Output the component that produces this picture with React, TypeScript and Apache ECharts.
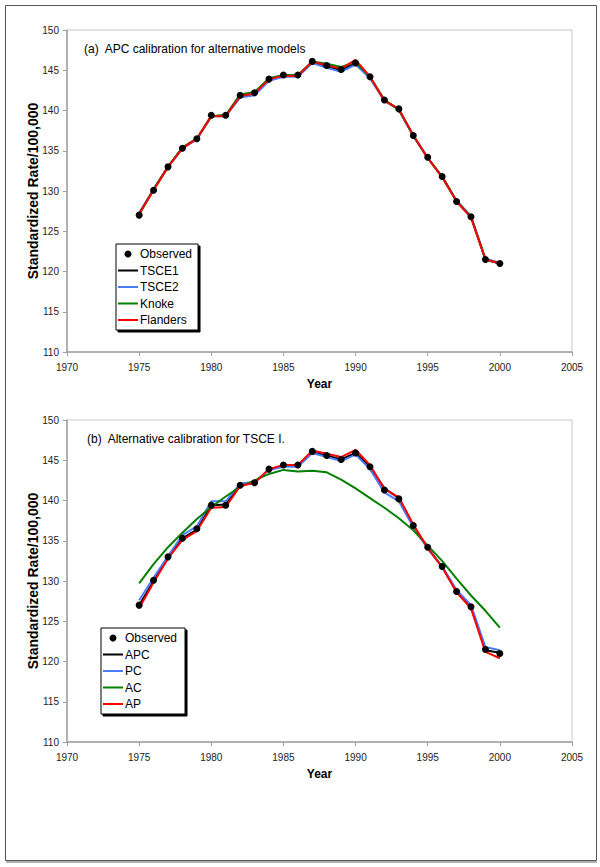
import React, { useEffect, useRef } from "react";
import * as echarts from "echarts";

const years = [1975, 1976, 1977, 1978, 1979, 1980, 1981, 1982, 1983, 1984, 1985, 1986, 1987, 1988, 1989, 1990, 1991, 1992, 1993, 1994, 1995, 1996, 1997, 1998, 1999, 2000];
const observed = [127.0, 130.1, 133.0, 135.3, 136.5, 139.4, 139.4, 141.9, 142.2, 143.9, 144.4, 144.4, 146.1, 145.6, 145.1, 145.9, 144.2, 141.3, 140.2, 136.9, 134.2, 131.8, 128.7, 126.8, 121.5, 121.0];

// Panel (a)
const tsce1 = [127.1, 130.2, 133.0, 135.4, 136.5, 139.3, 139.4, 141.8, 142.1, 143.9, 144.3, 144.3, 146.0, 145.5, 145.0, 145.9, 144.1, 141.3, 140.1, 136.9, 134.1, 131.8, 128.8, 126.8, 121.5, 121.0];
const tsce2 = [127.3, 130.2, 133.0, 135.3, 136.4, 139.3, 139.3, 141.6, 141.9, 143.7, 144.2, 144.2, 145.9, 145.3, 144.8, 145.7, 144.0, 141.2, 140.1, 136.8, 134.1, 131.7, 128.8, 126.9, 121.6, 121.1];
const knoke = [127.1, 130.2, 133.0, 135.4, 136.5, 139.3, 139.4, 142.0, 142.3, 144.0, 144.4, 144.4, 146.1, 145.8, 145.4, 146.0, 144.2, 141.3, 140.1, 136.9, 134.1, 131.8, 128.7, 126.8, 121.5, 121.0];
const flanders = [127.2, 130.1, 133.0, 135.3, 136.5, 139.3, 139.3, 141.8, 142.1, 143.9, 144.3, 144.3, 146.1, 145.6, 145.2, 146.3, 144.2, 141.2, 140.2, 136.9, 134.1, 131.7, 128.7, 126.7, 121.5, 121.0];

// Panel (b)
const apc = [127.0, 130.0, 133.0, 135.3, 136.4, 139.4, 139.5, 141.9, 142.2, 143.9, 144.3, 144.3, 146.0, 145.6, 145.1, 145.9, 144.2, 141.5, 140.3, 136.9, 134.1, 131.8, 128.7, 126.8, 121.4, 121.1];
const pc = [127.6, 130.4, 133.1, 135.7, 136.8, 139.9, 139.9, 142.1, 142.3, 143.8, 144.2, 144.2, 145.9, 145.4, 144.9, 145.7, 143.9, 141.0, 139.9, 136.7, 134.0, 131.8, 128.9, 127.0, 121.8, 121.4];
const ac = [129.7, 132.1, 134.2, 136.0, 137.7, 139.2, 140.5, 141.7, 142.5, 143.3, 143.8, 143.6, 143.7, 143.5, 142.6, 141.5, 140.3, 139.1, 137.8, 136.3, 134.4, 132.5, 130.3, 128.2, 126.3, 124.2];
const ap = [126.6, 129.8, 132.8, 135.1, 136.2, 139.1, 139.2, 141.8, 142.2, 143.9, 144.4, 144.4, 146.2, 145.8, 145.4, 146.3, 144.4, 141.4, 140.4, 137.0, 134.1, 131.7, 128.6, 126.6, 121.2, 120.4];

const titleA = "(a)  APC calibration for alternative models";
const titleB = "(b)  Alternative calibration for TSCE I.";
const legendA = ["Observed", "TSCE1", "TSCE2", "Knoke", "Flanders"];
const legendB = ["Observed", "APC", "PC", "AC", "AP"];
const colors = ["#000000", "#4a7dff", "#008000", "#ff0000"];

const FONT = "'Liberation Sans', Arial, sans-serif";
const LINE_ICON = "path://M0,0 L20,0 L20,2 L0,2 Z";

const pairs = (vals: number[]) => years.map((y, i) => [y, vals[i]]);

export default function App() {
  const ref = useRef<HTMLDivElement>(null);
  useEffect(() => {
    if (!ref.current) return;
    const chart = echarts.init(ref.current, undefined, { renderer: "svg" });

    const grids = [
      { left: 67, top: 30, width: 505, height: 322 },
      { left: 67, top: 420, width: 505, height: 322 },
    ];
    const xAxes = grids.map((_, i) => ({
      type: "value",
      gridIndex: i,
      min: 1970,
      max: 2005,
      interval: 5,
      name: "Year",
      nameLocation: "middle",
      nameGap: 26,
      nameTextStyle: { fontFamily: FONT, fontSize: 12, fontWeight: "bold", color: "#000" },
      axisLine: { show: true, lineStyle: { color: "#a0a0a0", width: 1.5 } },
      axisTick: { show: true, length: 4, lineStyle: { color: "#a0a0a0" } },
      axisLabel: { fontFamily: FONT, fontSize: 10, color: "#222", margin: 10, formatter: (v: number) => String(v) },
      splitLine: { show: false },
    }));
    const yAxes = grids.map((_, i) => ({
      type: "value",
      gridIndex: i,
      min: 110,
      max: 150,
      interval: 5,
      name: "Standardized Rate/100,000",
      nameLocation: "middle",
      nameGap: 27,
      nameMoveOverlap: false,
      nameTextStyle: { fontFamily: FONT, fontSize: 14, fontWeight: "bold", color: "#000" },
      axisLine: { show: true, lineStyle: { color: "#a0a0a0", width: 1.5 } },
      axisTick: { show: true, length: 4, lineStyle: { color: "#a0a0a0" } },
      axisLabel: { fontFamily: FONT, fontSize: 10, color: "#222", margin: 8 },
      splitLine: { show: false },
    }));

    const lineSeries = (name: string, vals: number[], color: string, gi: number) => ({
      type: "line",
      name,
      xAxisIndex: gi,
      yAxisIndex: gi,
      data: pairs(vals),
      symbol: "none",
      lineStyle: { color, width: 2 },
      itemStyle: { color },
    });
    const obsSeries = (gi: number) => ({
      type: "scatter",
      name: "Observed",
      xAxisIndex: gi,
      yAxisIndex: gi,
      data: pairs(observed),
      symbol: "circle",
      symbolSize: 7,
      itemStyle: { color: "#000", opacity: 1 },
      z: 5,
    });

    const legendItems = (names: string[]) =>
      names.map((n) => (n === "Observed" ? { name: n, icon: "circle" } : { name: n, icon: LINE_ICON }));

    const legendCommon = {
      orient: "vertical",
      itemWidth: 20,
      itemHeight: 7,
      itemGap: 4.5,
      backgroundColor: "#fff",
      borderColor: "#000",
      borderWidth: 1,
      shadowColor: "#000",
      shadowBlur: 0,
      shadowOffsetX: 2,
      shadowOffsetY: 2,
      selectedMode: false,
      textStyle: { fontFamily: FONT, fontSize: 12, color: "#000", padding: [0, 0, 0, -3] },
    };

    chart.setOption({
      animation: false,
      backgroundColor: "#fff",
      grid: grids.map((g) => ({ ...g, show: true, borderColor: "#c8c8c8", borderWidth: 1, backgroundColor: "transparent" })),
      xAxis: xAxes,
      yAxis: yAxes,
      title: [
        { text: titleA, left: 79, top: 38, textStyle: { fontFamily: FONT, fontSize: 12, fontWeight: "normal", color: "#000" } },
        { text: titleB, left: 82, top: 428, textStyle: { fontFamily: FONT, fontSize: 12, fontWeight: "normal", color: "#000" } },
      ],
      legend: [
        { ...legendCommon, data: legendItems(legendA), left: 116, top: 244, padding: [4, 6, 4, 2] },
        { ...legendCommon, data: legendItems(legendB), left: 101, top: 628, padding: [4, 8, 4, 2] },
      ],
      graphic: [
        { type: "rect", shape: { x: 5.5, y: 5.5, width: 591, height: 855 }, style: { fill: "none", stroke: "#555", lineWidth: 1 }, z: 100 },
        { type: "line", shape: { x1: 6, y1: 862, x2: 597, y2: 862 }, style: { stroke: "#999", lineWidth: 1.5 }, z: 100 },
      ],
      series: [
        lineSeries("TSCE1", tsce1, colors[0], 0),
        lineSeries("TSCE2", tsce2, colors[1], 0),
        lineSeries("Knoke", knoke, colors[2], 0),
        lineSeries("Flanders", flanders, colors[3], 0),
        obsSeries(0),
        lineSeries("APC", apc, colors[0], 1),
        lineSeries("PC", pc, colors[1], 1),
        lineSeries("AC", ac, colors[2], 1),
        lineSeries("AP", ap, colors[3], 1),
        obsSeries(1),
      ],
    });
    return () => chart.dispose();
  }, []);
  return <div ref={ref} style={{ position: "absolute", left: 0, top: 0, width: 600, height: 867 }} />;
}
